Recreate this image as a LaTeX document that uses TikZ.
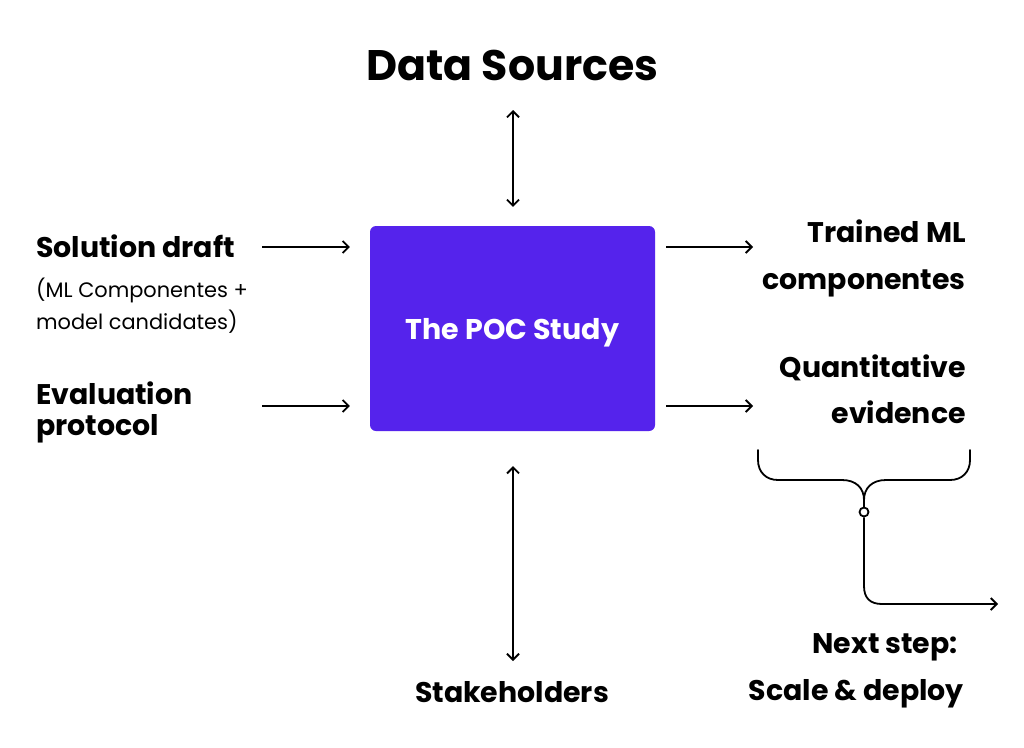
\documentclass[tikz,border=0pt]{standalone}
\usepackage{fontspec}
\setmainfont{Poppins}
\usetikzlibrary{arrows.meta}
\definecolor{pocpurple}{HTML}{5523EC}
\begin{document}
\begin{tikzpicture}[x=1pt,y=-1pt,
  lbl/.style={inner sep=0pt, font=\fontsize{28.4}{32}\selectfont\bfseries},
  sub/.style={inner sep=0pt, font=\fontsize{20.9}{25}\selectfont},
  arr/.style={line width=1.8pt, -{Straight Barb[length=6pt,width=12pt,line width=1.8pt]}},
  darr/.style={line width=1.8pt, {Straight Barb[length=6pt,width=12pt,line width=1.8pt]}-{Straight Barb[length=6pt,width=12pt,line width=1.8pt]}},
  pocbox/.style={fill=pocpurple, rounded corners=6pt, minimum width=285pt, minimum height=205pt, inner sep=0pt, text=white, text depth=0pt, font=\fontsize{28.5}{32}\selectfont\bfseries}
]
\useasboundingbox[fill=white] (0,0) rectangle (1024,747);

% central box
\node[pocbox] (box) at (512.5,328.5) {The POC Study};

% top
\node[inner sep=0pt, anchor=base, font=\fontsize{42.7}{48}\selectfont\bfseries] (ds) at (512.5,80) {Data Sources};
\coordinate (topend) at (513,110);
\draw[darr] (topend) -- (topend |- box.north) [shorten >=19pt];

% bottom
\node[lbl, anchor=base] (stake) at (512,702) {Stakeholders};
\coordinate (botend) at (513,661);
\draw[darr, shorten <=35pt] (box.south -| botend) -- (botend);

% left inputs
\node[lbl, anchor=base west] (sol) at (36,257) {Solution draft};
\node[sub, anchor=base west] (sub1) at (36,297) {(ML Componentes +};
\node[sub, anchor=base west] (sub2) at (36,329) {model candidates)};
\node[lbl, anchor=base west] (eval1) at (36,404) {Evaluation};
\node[lbl, anchor=base west] (eval2) at (36,435) {protocol};

\coordinate (in1) at (262,247);
\coordinate (in2) at (262,406);
\draw[arr, shorten >=20pt] (in1) -- (in1 -| box.west);
\draw[arr, shorten >=20pt] (in2) -- (in2 -| box.west);

% right outputs
\node[lbl, anchor=base east] (tr1) at (966,242) {Trained ML};
\node[lbl, anchor=base east] (tr2) at (966,289) {componentes};
\node[lbl, anchor=base east] (qe1) at (966,377) {Quantitative};
\node[lbl, anchor=base east] (qe2) at (966,423) {evidence};

\coordinate (out1) at (753,247);
\coordinate (out2) at (753,406);
\draw[arr, shorten <=11pt] (out1 -| box.east) -- (out1);
\draw[arr, shorten <=11pt] (out2 -| box.east) -- (out2);

% brace
\coordinate (bl) at (758,450);
\coordinate (br) at (970,450);
\coordinate (bj) at (864,500);
\node[circle, draw, line width=1.8pt, fill=white, minimum size=9pt, inner sep=0pt] (knot) at (864,512) {};
\draw[line width=1.8pt, line cap=round]
  (bl) -- (758,460) .. controls (758,472) and (766,480) .. (778,480)
  -- (842,480) .. controls (856,480) and (864,488) .. (bj);
\draw[line width=1.8pt, line cap=round]
  (br) -- (970,460) .. controls (970,472) and (962,480) .. (950,480)
  -- (886,480) .. controls (872,480) and (864,488) .. (bj);
\draw[line width=1.8pt] (bj) -- (knot.north);
\coordinate (nsend) at (998,604);
\draw[arr] (knot.south) -- (864,586) .. controls (864,598) and (870,604) .. (882,604) -- (nsend);

\node[lbl, anchor=base east] (ns1) at (958,653) {Next step:};
\node[lbl, anchor=base east] (ns2) at (964,700) {Scale \& deploy};
\end{tikzpicture}
\end{document}
